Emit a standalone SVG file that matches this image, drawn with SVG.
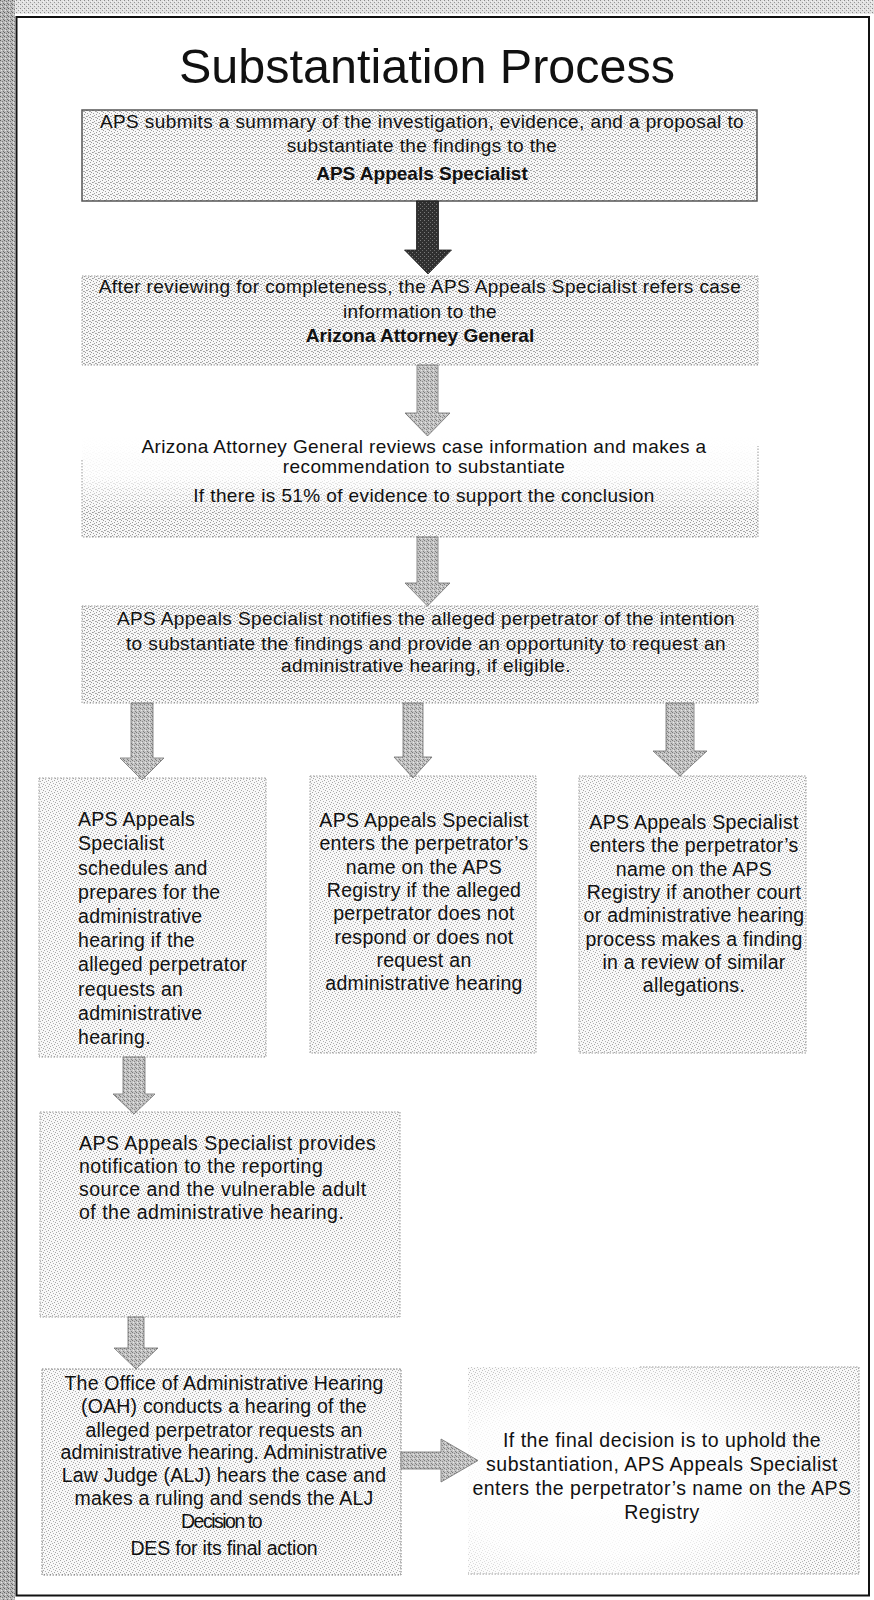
<svg xmlns="http://www.w3.org/2000/svg" width="874" height="1600" viewBox="0 0 874 1600">
<defs>
<pattern id="ht" width="6" height="6" patternUnits="userSpaceOnUse"><rect width="6" height="6" fill="#f7f7f7"/><rect x="0" y="0" width="1" height="1" fill="#999"/><rect x="4" y="1" width="1" height="1" fill="#a2a2a2"/><rect x="2" y="2" width="1" height="1" fill="#9c9c9c"/><rect x="5" y="3" width="1" height="1" fill="#a5a5a5"/><rect x="1" y="4" width="1" height="1" fill="#999"/><rect x="3" y="5" width="1" height="1" fill="#a0a0a0"/><rect x="0" y="3" width="1" height="1" fill="#b0b0b0"/><rect x="3" y="2" width="1" height="1" fill="#b4b4b4"/></pattern>
<pattern id="ht2" width="6" height="6" patternUnits="userSpaceOnUse"><rect width="6" height="6" fill="#f8f8f8"/><rect x="0" y="0" width="1" height="1" fill="#a4a4a4"/><rect x="4" y="1" width="1" height="1" fill="#b0b0b0"/><rect x="2" y="2" width="1" height="1" fill="#a8a8a8"/><rect x="5" y="3" width="1" height="1" fill="#b2b2b2"/><rect x="1" y="4" width="1" height="1" fill="#a6a6a6"/><rect x="3" y="5" width="1" height="1" fill="#b0b0b0"/></pattern>
<pattern id="band" width="4" height="4" patternUnits="userSpaceOnUse"><rect width="4" height="4" fill="#b8b8b8"/><rect x="0" y="0" width="1" height="1" fill="#5e5e5e"/><rect x="2" y="1" width="1" height="1" fill="#777"/><rect x="1" y="2" width="1" height="1" fill="#e6e6e6"/><rect x="3" y="3" width="1" height="1" fill="#6e6e6e"/></pattern>
<pattern id="band2" width="4" height="4" patternUnits="userSpaceOnUse"><rect width="4" height="4" fill="#e2e2e2"/><rect x="0" y="0" width="1" height="1" fill="#8a8a8a"/><rect x="2" y="2" width="1" height="1" fill="#9a9a9a"/><rect x="3" y="1" width="1" height="1" fill="#f6f6f6"/></pattern>
<pattern id="arL" width="4" height="4" patternUnits="userSpaceOnUse"><rect width="4" height="4" fill="#c4c4c4"/><rect x="0" y="0" width="1" height="1" fill="#7a7a7a"/><rect x="2" y="1" width="1" height="1" fill="#888"/><rect x="1" y="2" width="1" height="1" fill="#e8e8e8"/><rect x="3" y="3" width="1" height="1" fill="#808080"/></pattern>
<pattern id="arD" width="4" height="4" patternUnits="userSpaceOnUse"><rect width="4" height="4" fill="#303030"/><rect x="0" y="0" width="1" height="1" fill="#7a7a7a"/><rect x="2" y="2" width="1" height="1" fill="#6a6a6a"/></pattern>
<linearGradient id="fadeTop" x1="0" y1="0" x2="0" y2="1"><stop offset="0" stop-color="#fff" stop-opacity="1"/><stop offset="0.4" stop-color="#fff" stop-opacity="0.85"/><stop offset="0.75" stop-color="#fff" stop-opacity="0"/></linearGradient>
<radialGradient id="fadeFinal" cx="0.3" cy="0.55" r="0.8"><stop offset="0" stop-color="#fff" stop-opacity="1"/><stop offset="0.45" stop-color="#fff" stop-opacity="0.85"/><stop offset="0.9" stop-color="#fff" stop-opacity="0"/></radialGradient>
<style>
.t{font-family:"Liberation Sans",Arial,sans-serif;font-size:19px;letter-spacing:0.4px;fill:#111;text-anchor:middle}
.b{font-weight:bold;letter-spacing:0}
.s{font-family:"Liberation Sans",Arial,sans-serif;font-size:19.5px;letter-spacing:0.3px;fill:#111}
.m{text-anchor:middle}
.title{font-family:"Liberation Sans",Arial,sans-serif;font-size:48.5px;fill:#111;text-anchor:middle}
.dot{stroke:#999;stroke-width:1;stroke-dasharray:1.5 1.5;fill:none}
.dotd{stroke:#777;stroke-width:1;stroke-dasharray:1.5 1.5;fill:none}
.arL{fill:url(#arL);stroke:#707070;stroke-width:0.8}
.arD{fill:url(#arD);stroke:#1e1e1e;stroke-width:0.8}
</style>
</defs>
<rect width="874" height="1600" fill="#fff"/>
<g id="frame">
<rect x="0" y="0" width="874" height="14" fill="url(#band2)"/>
<rect x="0" y="0" width="15" height="1600" fill="url(#band)"/>
<rect x="16.5" y="17" width="852.5" height="1578.5" fill="none" stroke="#111" stroke-width="2"/>
</g>
<g id="title"><text class="title" x="427" y="83">Substantiation Process</text></g>

<g id="node1">
<rect x="82" y="110" width="675" height="91" fill="url(#ht)" stroke="#555" stroke-width="1.5"/>
<text class="t" x="422" y="128">APS submits a summary of the investigation, evidence, and a proposal to</text>
<text class="t" x="422" y="152">substantiate the findings to the</text>
<text class="t b" x="422" y="180">APS Appeals Specialist</text>
</g>

<g id="node2">
<rect x="82" y="276" width="676" height="89" fill="url(#ht)"/>
<rect x="82" y="276" width="676" height="89" class="dot"/>
<text class="t" x="420" y="293">After reviewing for completeness, the APS Appeals Specialist refers case</text>
<text class="t" x="420" y="318">information to the</text>
<text class="t b" x="420" y="342">Arizona Attorney General</text>
</g>

<g id="node3">
<rect x="82" y="436" width="676" height="101" fill="url(#ht)"/>
<rect x="82" y="436" width="676" height="101" fill="url(#fadeTop)"/>
<path d="M82 460 V537 H758 V446" class="dot"/>
<text class="t" x="424" y="453">Arizona Attorney General reviews case information and makes a</text>
<text class="t" x="424" y="473">recommendation to substantiate</text>
<text class="t" x="424" y="502">If there is 51% of evidence to support the conclusion</text>
</g>

<g id="node4">
<rect x="82" y="606" width="676" height="97" fill="url(#ht)"/>
<rect x="82" y="606" width="676" height="97" class="dot"/>
<text class="t" x="426" y="625">APS Appeals Specialist notifies the alleged perpetrator of the intention</text>
<text class="t" x="426" y="650">to substantiate the findings and provide an opportunity to request an</text>
<text class="t" x="426" y="672">administrative hearing, if eligible.</text>
</g>

<g id="node5">
<rect x="39" y="778" width="227" height="279" fill="url(#ht2)"/>
<rect x="39" y="778" width="227" height="279" class="dot"/>
<text class="s" x="78" y="826">APS Appeals</text>
<text class="s" x="78" y="850">Specialist</text>
<text class="s" x="78" y="874.5">schedules and</text>
<text class="s" x="78" y="898.5">prepares for the</text>
<text class="s" x="78" y="923">administrative</text>
<text class="s" x="78" y="947">hearing if the</text>
<text class="s" x="78" y="971">alleged perpetrator</text>
<text class="s" x="78" y="995.5">requests an</text>
<text class="s" x="78" y="1019.5">administrative</text>
<text class="s" x="78" y="1044">hearing.</text>
</g>

<g id="node6">
<rect x="310" y="776" width="226" height="277" fill="url(#ht2)"/>
<rect x="310" y="776" width="226" height="277" class="dot"/>
<text class="s m" x="424" y="827">APS Appeals Specialist</text>
<text class="s m" x="424" y="850.3">enters the perpetrator’s</text>
<text class="s m" x="424" y="873.6">name on the APS</text>
<text class="s m" x="424" y="896.9">Registry if the alleged</text>
<text class="s m" x="424" y="920.2">perpetrator does not</text>
<text class="s m" x="424" y="943.5">respond or does not</text>
<text class="s m" x="424" y="966.8">request an</text>
<text class="s m" x="424" y="990.1">administrative hearing</text>
</g>

<g id="node7">
<rect x="579" y="776" width="227" height="277" fill="url(#ht2)"/>
<rect x="579" y="776" width="227" height="277" class="dot"/>
<text class="s m" x="694" y="829">APS Appeals Specialist</text>
<text class="s m" x="694" y="852.3">enters the perpetrator’s</text>
<text class="s m" x="694" y="875.6">name on the APS</text>
<text class="s m" x="694" y="898.9">Registry if another court</text>
<text class="s m" x="694" y="922.2">or administrative hearing</text>
<text class="s m" x="694" y="945.5">process makes a finding</text>
<text class="s m" x="694" y="968.8">in a review of similar</text>
<text class="s m" x="694" y="992.1">allegations.</text>
</g>

<g id="node8">
<rect x="40" y="1112" width="360" height="205" fill="url(#ht2)"/>
<rect x="40" y="1112" width="360" height="205" class="dot"/>
<text class="s" x="79" y="1150" style="letter-spacing:0.5px">APS Appeals Specialist provides</text>
<text class="s" x="79" y="1173" style="letter-spacing:0.5px">notification to the reporting</text>
<text class="s" x="79" y="1196" style="letter-spacing:0.5px">source and  the vulnerable  adult</text>
<text class="s" x="79" y="1219" style="letter-spacing:0.5px">of the administrative hearing.</text>
</g>

<g id="node9">
<rect x="42" y="1369" width="359" height="206" fill="url(#ht2)"/>
<rect x="42" y="1369" width="359" height="206" class="dotd"/>
<text class="s m" x="224" y="1390" style="letter-spacing:0.2px">The Office of Administrative Hearing</text>
<text class="s m" x="224" y="1413" style="letter-spacing:0.2px">(OAH) conducts a hearing of the</text>
<text class="s m" x="224" y="1437" style="letter-spacing:0.2px">alleged perpetrator requests an</text>
<text class="s m" x="224" y="1459" style="letter-spacing:0.1px">administrative hearing. Administrative</text>
<text class="s m" x="224" y="1482" style="letter-spacing:0.2px">Law Judge (ALJ) hears the case and</text>
<text class="s m" x="224" y="1505" style="letter-spacing:0.2px">makes a ruling and sends the ALJ</text>
<text class="s m" x="221" y="1528" style="letter-spacing:-1.5px">Decision to</text>
<text class="s m" x="224" y="1555" style="letter-spacing:-0.2px">DES for its final action</text>
</g>

<g id="node10">
<rect x="468" y="1367" width="391" height="207" fill="url(#ht2)"/>
<rect x="468" y="1367" width="391" height="207" fill="url(#fadeFinal)"/>
<path d="M640 1367 H859 V1574 H468" class="dot"/>
<text class="s m" x="662" y="1447" style="letter-spacing:0.5px">If the final decision is to uphold the</text>
<text class="s m" x="662" y="1471" style="letter-spacing:0.5px">substantiation, APS Appeals Specialist</text>
<text class="s m" x="662" y="1495" style="letter-spacing:0.5px">enters the perpetrator’s name on the APS</text>
<text class="s m" x="662" y="1519" style="letter-spacing:0.5px">Registry</text>
</g>

<g id="connectors">
<path class="arD" d="M416.5 201 H438.5 V250 H451.5 L428 274 L404.5 250 H416.5 Z"/>
<path class="arL" d="M417 365 H438 V413 H450 L427.5 436 L405 413 H417 Z"/>
<path class="arL" d="M417 537 H438 V583 H450 L427.5 606 L405 583 H417 Z"/>
<path class="arL" d="M131 703 H153 V758 H164 L142 780 L120 758 H131 Z"/>
<path class="arL" d="M403 703 H423 V757 H432 L413 778 L394 757 H403 Z"/>
<path class="arL" d="M666 703 H694 V751 H707 L680 776 L653 751 H666 Z"/>
<path class="arL" d="M123 1057 H145 V1094 H155 L134 1114 L113 1094 H123 Z"/>
<path class="arL" d="M128 1317 H144 V1348 H158 L136 1369 L114 1348 H128 Z"/>
<path class="arL" d="M401 1452 H441 V1439 L478 1460.5 L441 1482 V1469 H401 Z"/>
</g>
</svg>
